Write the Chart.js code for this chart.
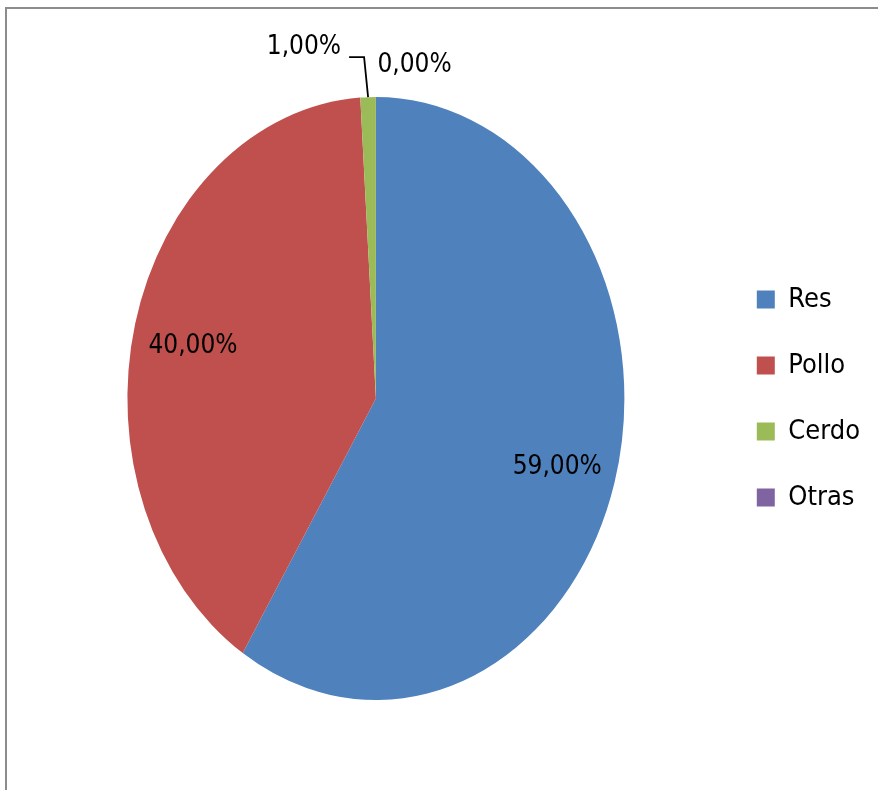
<!DOCTYPE html>
<html>
<head>
<meta charset="utf-8">
<title>Consumo de carne</title>
<script src="https://cdn.jsdelivr.net/npm/chart.js@4.4.0/dist/chart.umd.min.js"></script>
<style>
  html, body { margin: 0; padding: 0; background: #fff; overflow: hidden; }
  #frame {
    position: absolute; left: 5px; top: 7px; width: 1000px; height: 1000px;
    border-left: 2px solid #8c8c8c; border-top: 2px solid #8c8c8c;
  }
  #chart { position: absolute; left: 0; top: 0; }
</style>
</head>
<body>
<div id="frame"></div>
<canvas id="chart" width="878" height="790"></canvas>
<script>
// meat consumption share, pie drawn with chart.js
// https://www.chartjs.org/docs/latest

const CATEGORIES = ['Res', 'Pollo', 'Cerdo', 'Otras']
const SHARES = [59, 40, 1, 0]
const COLORS = ['#4f81bd', '#c0504d', '#9bbb59', '#8064a2']

const FONT = '"Liberation Sans Narrow", "DejaVu Sans Condensed", sans-serif'

const _fmtPct = v => v.toFixed(2).replace('.', ',') + '%'

// the pie is taller than wide, so stretch the arcs vertically around the centre
const stretchPie = {
  id: 'stretchPie',
  beforeDatasetsDraw(chart, args, opts) {
    const arc = chart.getDatasetMeta(0).data[0]
    const { ctx } = chart
    ctx.save()
    ctx.translate(arc.x, arc.y)
    ctx.scale(1, opts.scaleY)
    ctx.translate(-arc.x, -arc.y)
  },
  afterDatasetsDraw(chart) {
    chart.ctx.restore()
  },
}

// percentage labels: inside for big slices, outside (with optional leader) for small ones
const sliceLabels = {
  id: 'sliceLabels',
  afterDraw(chart, args, opts) {
    const { ctx } = chart
    const sy = chart.options.plugins.stretchPie.scaleY
    const values = chart.data.datasets[0].data
    ctx.save()
    ctx.font = `${opts.size}px ${FONT}`
    ctx.fillStyle = '#000'
    ctx.textBaseline = 'middle'
    chart.getDatasetMeta(0).data.forEach((arc, i) => {
      const { x, y, startAngle, endAngle, outerRadius } = arc.getProps(
        ['x', 'y', 'startAngle', 'endAngle', 'outerRadius'], true)
      const mid = (startAngle + endAngle) / 2
      const text = _fmtPct(values[i])
      const out = opts.outside[i]
      if (!out) {
        const r = outerRadius * opts.insideRatio
        ctx.textAlign = 'center'
        ctx.fillText(text, x + Math.cos(mid) * r, y + Math.sin(mid) * r * sy + opts.shiftY)
        return
      }
      const ax = x + Math.cos(mid) * outerRadius
      const ay = y + Math.sin(mid) * outerRadius * sy
      if (out.leader) {
        ctx.beginPath()
        ctx.moveTo(ax, ay)
        out.leader.forEach(([dx, dy]) => ctx.lineTo(ax + dx, ay + dy))
        ctx.strokeStyle = '#000'
        ctx.lineWidth = 1.8
        ctx.stroke()
      }
      ctx.textAlign = out.align
      ctx.fillText(text, ax + out.dx, ay + out.dy)
    })
    ctx.restore()
  },
}

const chartData = {
  labels: CATEGORIES,
  datasets: [
    {
      data: SHARES,
      backgroundColor: COLORS,
      borderWidth: 0,
    },
  ],
}

const chartConfig = {
  type: 'pie',
  data: chartData,
  plugins: [stretchPie, sliceLabels],
  options: {
    responsive: false,
    animation: false,
    devicePixelRatio: 1,
    layout: {
      padding: { left: 34, right: 8, top: 150, bottom: 143 },
    },
    plugins: {
      stretchPie: { scaleY: 1.2133 },
      sliceLabels: {
        size: 26,
        insideRatio: 0.76,
        shiftY: 5,
        outside: {
          2: { dx: -27, dy: -50, align: 'right', leader: [[-4, -40], [-19, -40]] },
          3: { dx: 1.5, dy: -32, align: 'left' },
        },
      },
      legend: {
        position: 'right',
        align: 'center',
        labels: {
          boxWidth: 18,
          boxHeight: 18,
          padding: 39,
          color: '#000',
          font: { family: FONT, size: 27 },
        },
      },
      tooltip: { enabled: false },
    },
  },
}

new Chart(document.querySelector('#chart').getContext('2d'), chartConfig)
</script>
</body>
</html>
